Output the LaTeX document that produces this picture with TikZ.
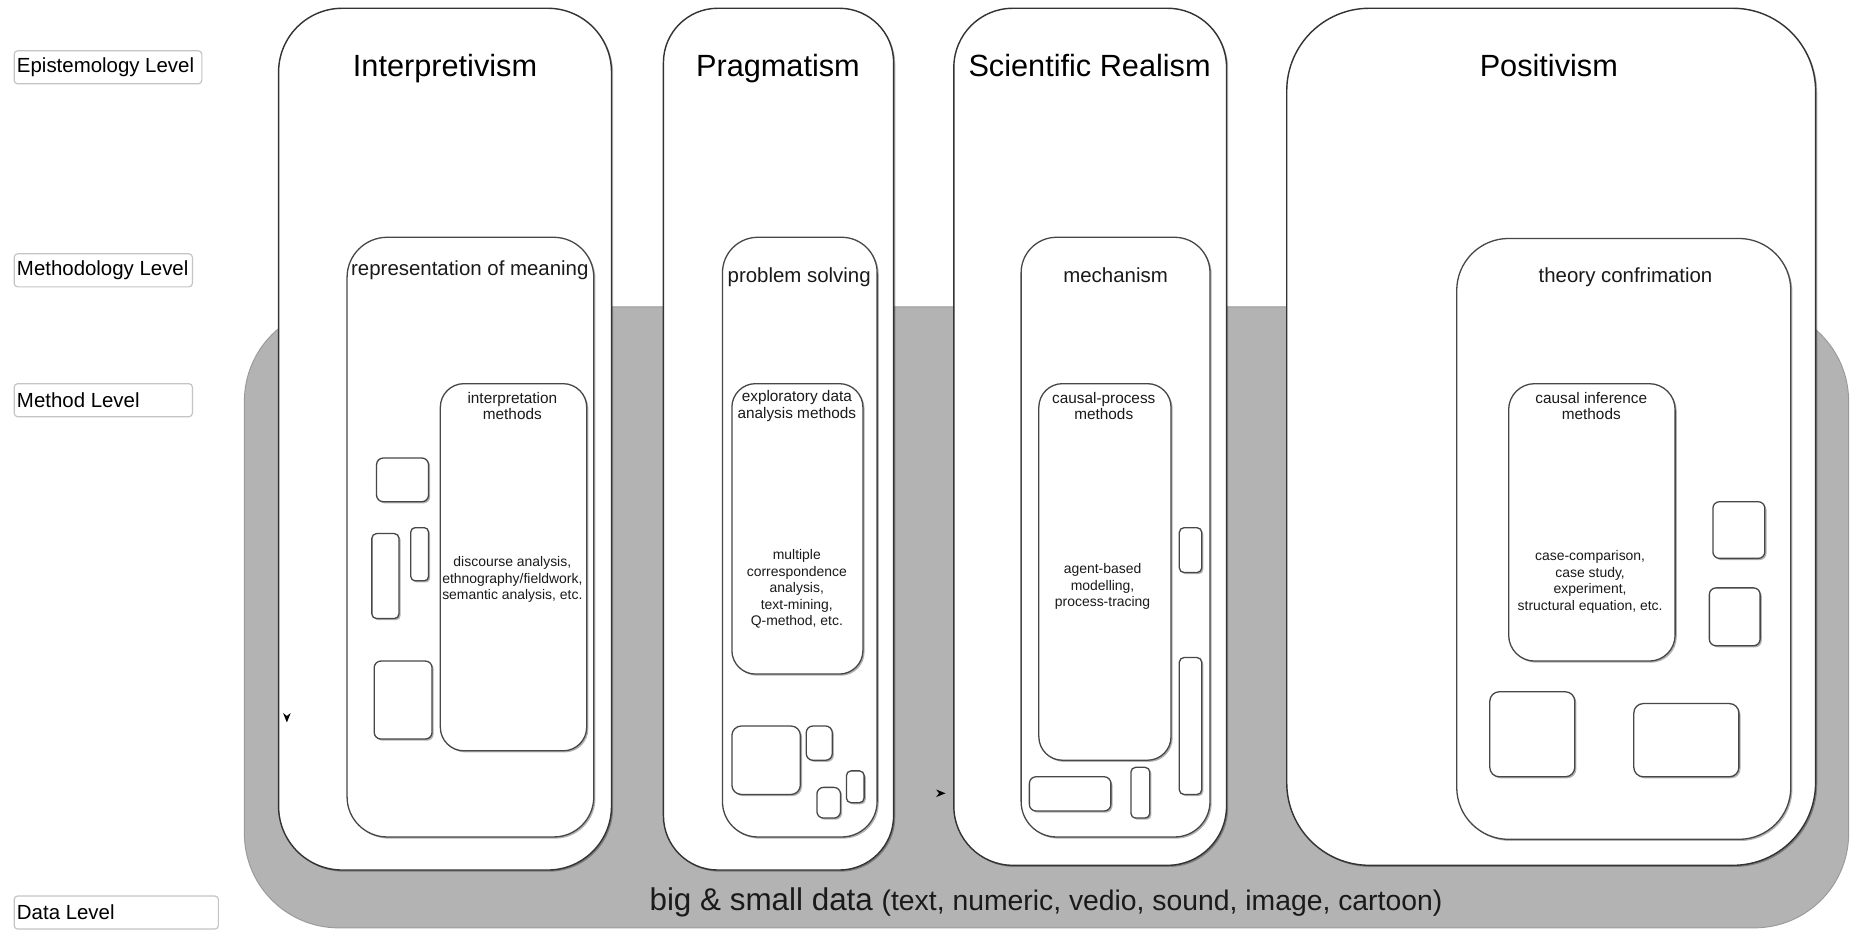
\documentclass[tikz,border=0pt]{standalone}
\usepackage{fontspec}
\setmainfont{Liberation Sans}
\usetikzlibrary{fit,shadows}
\definecolor{datagray}{HTML}{B3B3B3}
\definecolor{dataedge}{HTML}{9A9A9A}
\definecolor{edge}{HTML}{333333}
\definecolor{inneredge}{HTML}{474747}
\definecolor{lvedge}{HTML}{C4C4C4}
\definecolor{txt}{HTML}{1A1A1A}
\begin{document}
\begin{tikzpicture}[x=0.5pt,y=-0.5pt,
  softshadow/.style={drop shadow={shadow xshift=0.7pt,shadow yshift=-0.7pt,opacity=0.3,fill=black}},
  panel/.style={draw=edge,line width=0.6pt,fill=white,inner sep=0pt,softshadow},
  subpanel/.style={draw=inneredge,line width=0.55pt,fill=white,inner sep=0pt,softshadow},
  smallbox/.style={draw=inneredge,line width=0.55pt,fill=white,inner sep=0pt,rounded corners=2.8pt,softshadow},
  levelbox/.style={draw=lvedge,line width=0.5pt,fill=white,inner sep=0pt,rounded corners=1.5pt},
  leveltext/.style={anchor=west,inner sep=0pt,text=black,font=\fontsize{8.65}{10}\selectfont},
  headtext/.style={anchor=base,inner sep=0pt,text=black,font=\fontsize{13}{15}\selectfont},
  midtext/.style={anchor=base,inner sep=0pt,text=txt,font=\fontsize{8.65}{10}\selectfont},
  methtitle/.style={inner sep=0pt,align=center,text=txt,font=\fontsize{6.5}{7}\selectfont},
  methbody/.style={inner sep=0pt,align=center,text=txt,font=\fontsize{5.9}{7}\selectfont},
  tiptri/.style={fill=black}]
\useasboundingbox (0,0) rectangle (1568,788);

% data layer underneath everything
\fill[datagray,draw=dataedge,line width=0.4pt,rounded corners=40pt] (207,260) rectangle (1566,786);
\node[inner sep=0pt,anchor=base,text=txt] (data) at (886,771)
  {\fontsize{13.3}{16}\selectfont big \& small data {\fontsize{12}{14}\selectfont (text, numeric, vedio, sound, image, cartoon)}};

% level labels on the left
\node[levelbox,fit={(12,43) (171,71)}] (lvEpi) {};
\node[leveltext] (lvEpiT) at (14,57) {Epistemology Level};
\node[levelbox,fit={(12,215) (163,243)}] (lvMet) {};
\node[leveltext] (lvMetT) at (14,229) {Methodology Level};
\node[levelbox,fit={(12,325) (163,353)}] (lvMd) {};
\node[leveltext] (lvMdT) at (14,339) {Method Level};
\node[levelbox,fit={(12,759) (185,787)}] (lvDat) {};
\node[leveltext] (lvDatT) at (14,773) {Data Level};

% epistemology panels
\node[panel,rounded corners=27pt,fit={(236,7) (518,737)}] (interp) {};
\node[headtext] (interpT) at (377,65) {Interpretivism};
\node[panel,rounded corners=23pt,fit={(562,7) (757,737)}] (prag) {};
\node[headtext] (pragT) at (659,65) {Pragmatism};
\node[panel,rounded corners=25pt,fit={(808,7) (1039,733)}] (scireal) {};
\node[headtext] (scirealT) at (923,65) {Scientific Realism};
\node[panel,rounded corners=35pt,fit={(1090,7) (1538,733)}] (posit) {};
\node[headtext] (positT) at (1312,65) {Positivism};

% methodology panels
\node[subpanel,rounded corners=17pt,fit={(294,201) (503,709)}] (meaning) {};
\node[midtext] (meaningT) at (398,233) {representation of meaning};
\node[subpanel,rounded corners=15pt,fit={(612,201) (743,709)}] (problem) {};
\node[midtext] (problemT) at (677,239) {problem solving};
\node[subpanel,rounded corners=15pt,fit={(865,201) (1025,709)}] (mech) {};
\node[midtext] (mechT) at (945,239) {mechanism};
\node[subpanel,rounded corners=22pt,fit={(1234,202) (1517,711)}] (theory) {};
\node[midtext] (theoryT) at (1377,239) {theory confrimation};

% method panels
\node[subpanel,rounded corners=10pt,fit={(373,325) (497,636)}] (interpM) {};
\node[methtitle] (interpMT) at (434,344) {interpretation\\methods};
\node[methbody] (interpMB) at (434,491) {discourse analysis,\\ethnography/fieldwork,\\semantic analysis, etc.};

\node[subpanel,rounded corners=10pt,fit={(620,325) (731,571)}] (edaM) {};
\node[methtitle] (edaMT) at (675,344) {exploratory data\\analysis methods};
\node[methbody] (edaMB) at (675,499) {multiple\\correspondence\\analysis,\\text-mining,\\Q-method, etc.};

\node[subpanel,rounded corners=10pt,fit={(880,325) (992,644)}] (cpM) {};
\node[methtitle] (cpMT) at (935,344) {causal-process\\methods};
\node[methbody] (cpMB) at (934,497) {agent-based\\modelling,\\process-tracing};

\node[subpanel,rounded corners=11pt,fit={(1278,325) (1419,560)}] (ciM) {};
\node[methtitle] (ciMT) at (1348,344) {causal inference\\methods};
\node[methbody] (ciMB) at (1347,493) {case-comparison,\\case study,\\experiment,\\structural equation, etc.};

% empty placeholder boxes
\node[smallbox,fit={(319,388) (363,425)}] (i1) {};
\node[smallbox,rounded corners=2pt,fit={(315,452) (338,524)}] (i2) {};
\node[smallbox,rounded corners=1.8pt,fit={(348,447) (363,492)}] (i3) {};
\node[smallbox,fit={(317,560) (366,626)}] (i4) {};

\node[smallbox,rounded corners=4pt,fit={(620,615) (678,673)}] (p1) {};
\node[smallbox,fit={(683,615) (705,644)}] (p2) {};
\node[smallbox,fit={(692,667) (712,693)}] (p3) {};
\node[smallbox,rounded corners=2pt,fit={(717,653) (732,680)}] (p4) {};

\node[smallbox,rounded corners=2pt,fit={(999,447) (1018,485)}] (s1) {};
\node[smallbox,rounded corners=2pt,fit={(999,557) (1018,673)}] (s2) {};
\node[smallbox,fit={(872,658) (941,687)}] (s3) {};
\node[smallbox,rounded corners=2pt,fit={(958,650) (974,693)}] (s4) {};

\node[smallbox,fit={(1451,425) (1495,473)}] (q1) {};
\node[smallbox,fit={(1448,498) (1491,547)}] (q2) {};
\node[smallbox,rounded corners=4pt,fit={(1262,586) (1334,658)}] (q3) {};
\node[smallbox,rounded corners=4pt,fit={(1384,596) (1473,658)}] (q4) {};

% two stray arrow tips
\coordinate (tipA) at (243,612);
\fill[tiptri] (tipA) -- ++(-3.2,-8) -- ++(3.2,2.5) -- ++(3.2,-2.5) -- cycle;
\coordinate (tipB) at (801,672);
\fill[tiptri] (tipB) -- ++(-8,-3.2) -- ++(2.5,3.2) -- ++(-2.5,3.2) -- cycle;
\end{tikzpicture}
\end{document}
